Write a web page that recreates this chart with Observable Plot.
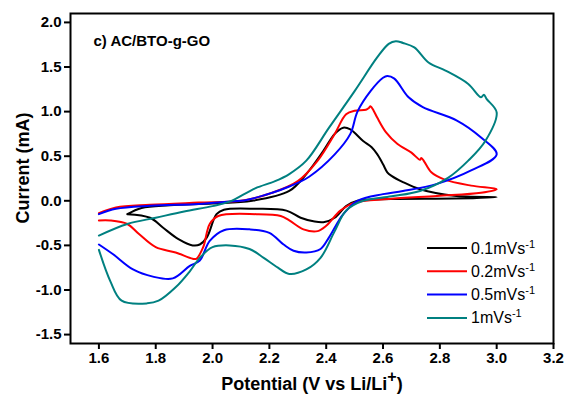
<!DOCTYPE html>
<html><head><meta charset="utf-8">
<script src="https://cdn.jsdelivr.net/npm/d3@7"></script>
<script src="https://cdn.jsdelivr.net/npm/@observablehq/plot@0.6"></script>
<style>
html,body{margin:0;padding:0;background:#fff;}
#chart{position:relative;width:566px;height:396px;}
#chart svg{font-family:"Liberation Sans",Arial,sans-serif;}
g[aria-label*="axis"] path{stroke-width:2px;}
g[aria-label*="axis"] text{font-weight:bold;}
</style></head><body><div id="chart"></div>
<script>
const seriesNames = ["0.1mVs", "0.2mVs", "0.5mVs", "1mVs"];
const seriesColors = ["#000000", "#ff0000", "#0000ff", "#008080"];

// 0.1 mV/s (black)
const pot01 = [1.70,1.75,1.85,2.00,2.14,2.27,2.33,2.39,2.43,2.46,2.485,2.53,2.56,2.58,2.60,2.615,2.63,2.67,2.73,2.85,3.00,
               2.85,2.63,2.51,2.47,2.43,2.39,2.355,2.31,2.26,2.155,2.04,2.014,1.98,1.955,1.93,1.88,1.825,1.78,1.70];
const cur01 = [-0.15,-0.08,-0.05,-0.03,0.00,0.11,0.30,0.56,0.75,0.82,0.80,0.67,0.60,0.52,0.41,0.32,0.28,0.21,0.13,0.056,0.04,
               0.025,0.02,0.00,-0.06,-0.19,-0.24,-0.23,-0.19,-0.11,-0.09,-0.10,-0.15,-0.41,-0.49,-0.50,-0.43,-0.30,-0.19,-0.15];

// 0.2 mV/s (red)
const pot02 = [1.60,1.66,1.78,1.95,2.10,2.21,2.30,2.37,2.43,2.47,2.50,2.54,2.55,2.556,2.567,2.58,2.61,2.65,2.70,2.73,2.735,2.745,2.77,2.815,2.91,3.00,
               2.945,2.79,2.62,2.50,2.45,2.40,2.37,2.32,2.27,2.24,2.155,2.02,1.99,1.967,1.943,1.93,1.87,1.80,1.74,1.70,1.64,1.60];
const cur02 = [-0.14,-0.075,-0.045,-0.02,0.00,0.09,0.22,0.45,0.75,0.97,1.01,1.02,1.04,1.06,1.01,0.93,0.77,0.64,0.54,0.46,0.48,0.44,0.32,0.24,0.17,0.13,
               0.09,0.055,0.02,-0.02,-0.11,-0.28,-0.34,-0.32,-0.22,-0.17,-0.15,-0.17,-0.26,-0.52,-0.65,-0.65,-0.58,-0.52,-0.37,-0.26,-0.22,-0.22];

// 0.5 mV/s (blue)
const pot05 = [1.60,1.66,1.78,1.95,2.05,2.12,2.21,2.27,2.34,2.43,2.485,2.51,2.556,2.60,2.615,2.64,2.69,2.74,2.86,2.945,3.00,
               2.91,2.79,2.67,2.60,2.51,2.46,2.41,2.38,2.33,2.285,2.25,2.20,2.13,2.04,1.99,1.955,1.92,1.86,1.79,1.72,1.65,1.60];
const cur05 = [-0.15,-0.09,-0.056,-0.035,-0.01,0.01,0.09,0.16,0.27,0.52,0.75,1.00,1.23,1.38,1.40,1.37,1.16,1.05,0.90,0.71,0.52,
               0.34,0.19,0.11,0.075,0.00,-0.15,-0.41,-0.54,-0.58,-0.56,-0.49,-0.36,-0.32,-0.33,-0.45,-0.67,-0.73,-0.87,-0.85,-0.77,-0.60,-0.49];

// 1 mV/s (teal)
const pot1 = [1.60,1.70,1.80,1.90,2.00,2.06,2.15,2.22,2.27,2.33,2.41,2.50,2.58,2.62,2.645,2.67,2.71,2.76,2.82,2.90,2.945,2.955,2.965,3.00,
              2.96,2.90,2.83,2.73,2.63,2.53,2.47,2.43,2.38,2.33,2.27,2.23,2.18,2.13,2.06,2.00,1.955,1.92,1.87,1.81,1.77,1.68,1.64,1.60];
const cur1 = [-0.39,-0.26,-0.19,-0.12,-0.06,-0.01,0.14,0.22,0.30,0.45,0.82,1.23,1.61,1.76,1.79,1.77,1.72,1.55,1.46,1.31,1.16,1.19,1.14,0.99,
              0.67,0.45,0.26,0.11,0.05,0.00,-0.11,-0.34,-0.64,-0.77,-0.82,-0.75,-0.64,-0.54,-0.50,-0.52,-0.64,-0.79,-0.97,-1.12,-1.15,-1.12,-0.90,-0.55];

const xTicks = [1.6, 1.8, 2.0, 2.2, 2.4, 2.6, 2.8, 3.0, 3.2];
const yTicks = [-1.5, -1.0, -0.5, 0.0, 0.5, 1.0, 1.5, 2.0];
const panelLabel = "c) AC/BTO-g-GO";

const pots = [pot01, pot02, pot05, pot1];
const curs = [cur01, cur02, cur05, cur1];
const rows = [];
seriesNames.forEach((s, k) => pots[k].forEach((p, i) => rows.push({series: s, x: p, y: curs[k][i]})));

const plot = Plot.plot({
  width: 566, height: 396,
  marginLeft: 70, marginRight: 13, marginTop: 13, marginBottom: 53,
  style: {fontSize: "15px", fontWeight: "bold", fontFamily: "Liberation Sans, Arial, sans-serif", background: "#fff", color: "#000"},
  x: {domain: [1.5, 3.2], ticks: xTicks, tickFormat: d => d.toFixed(1), tickSize: 6, tickPadding: 3, label: null},
  y: {domain: [-1.6, 2.1], ticks: yTicks, tickFormat: d => d.toFixed(1), tickSize: 6, tickPadding: 3, label: null},
  color: {domain: seriesNames, range: seriesColors},
  marks: [
    Plot.line(rows, {x: "x", y: "y", z: "series", stroke: "series", strokeWidth: 2, curve: "catmull-rom"}),
    Plot.text([panelLabel], {frameAnchor: "top-left", dx: 23, dy: 22, textAnchor: "start", fontSize: 15, fontWeight: "bold"}),
    Plot.frame({stroke: "#000", strokeWidth: 2})
  ]
});
document.getElementById("chart").appendChild(plot);

const svg = d3.select(plot);
// axis titles
svg.append("text")
  .attr("transform", "translate(29,168) rotate(-90)")
  .attr("text-anchor", "middle").attr("font-size", 18).attr("font-weight", "bold")
  .text("Current (mA)");
const xt = svg.append("text").attr("x", 312).attr("y", 390)
  .attr("text-anchor", "middle").attr("font-size", 18).attr("font-weight", "bold");
xt.append("tspan").text("Potential (V vs Li/Li");
xt.append("tspan").attr("dy", -8).attr("font-size", 16).text("+");
xt.append("tspan").attr("dy", 8).text(")");

// legend
const lg = svg.append("g").attr("text-anchor", "start");
seriesNames.forEach((s, i) => {
  const yy = 248 + i * 23.3;
  lg.append("line").attr("x1", 427).attr("x2", 467).attr("y1", yy).attr("y2", yy)
    .attr("stroke", seriesColors[i]).attr("stroke-width", 2);
  const t = lg.append("text").attr("x", 471).attr("y", yy + 5.5)
    .attr("text-anchor", "start").attr("font-size", 16).attr("font-weight", "normal");
  t.append("tspan").text(s);
  t.append("tspan").attr("dy", -6).attr("font-size", 11).text("-1");
});
</script></body></html>
